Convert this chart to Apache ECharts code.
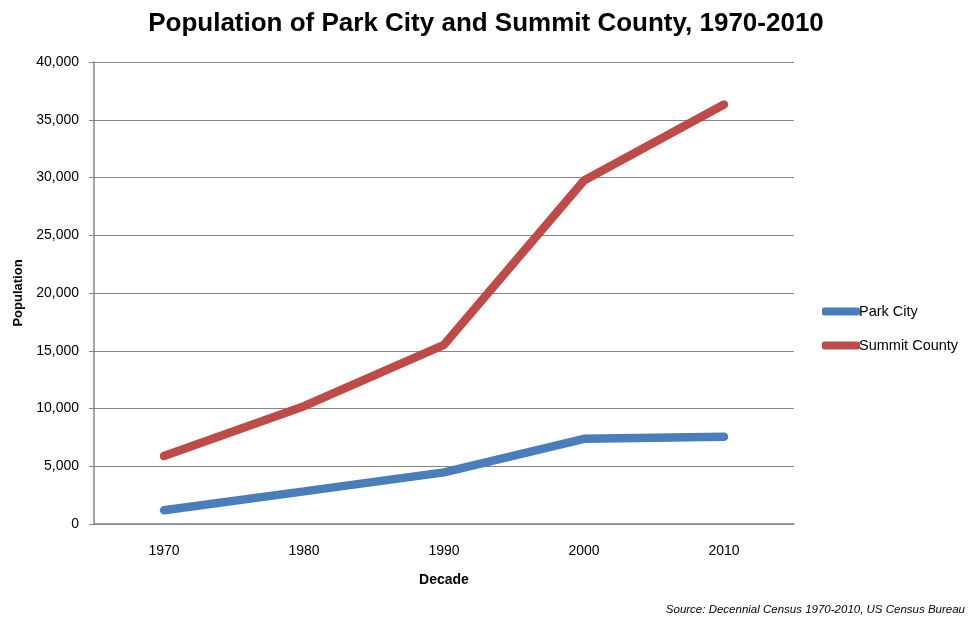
<!DOCTYPE html>
<html>
<head>
<meta charset="utf-8">
<script src="https://cdn.jsdelivr.net/npm/echarts@6/dist/echarts.min.js"></script>
<style>
  html, body { margin: 0; padding: 0; background: #fff; }
  #chart { width: 972px; height: 617px; }
</style>
</head>
<body>
<div id="chart"></div>
<script>
// Decennial census counts
const decades = ['1970', '1980', '1990', '2000', '2010'];
const parkCity = [1193, 2823, 4468, 7371, 7558];
const summitCounty = [5879, 10198, 15518, 29736, 36324];
const yTicks = { min: 0, max: 40000, interval: 5000 };

const FONT = '"Liberation Sans", Arial, sans-serif';
const chart = echarts.init(document.getElementById('chart'));

chart.setOption({
  backgroundColor: '#ffffff',
  textStyle: { fontFamily: FONT },
  title: [
    {
      text: 'Population of Park City and Summit County, 1970-2010',
      left: 'center',
      top: 6,
      textStyle: { fontFamily: FONT, fontSize: 26, fontWeight: 'bold', color: '#000' }
    },
    {
      text: 'Source: Decennial Census 1970-2010, US Census Bureau',
      right: 2,
      top: 599,
      textStyle: { fontFamily: FONT, fontSize: 11.5, fontStyle: 'italic', fontWeight: 'normal', color: '#000' }
    }
  ],
  legend: {
    orient: 'vertical',
    left: 817,
    top: 299,
    itemWidth: 38,
    itemHeight: 8,
    itemGap: 19,
    icon: 'roundRect',
    textStyle: { fontFamily: FONT, fontSize: 14.5, color: '#000', padding: [0, 0, 0, -6] },
    data: ['Park City', 'Summit County']
  },
  grid: { left: 94, right: 178, top: 62, bottom: 93 },
  xAxis: {
    type: 'category',
    data: decades,
    boundaryGap: true,
    name: 'Decade',
    nameLocation: 'middle',
    nameGap: 49,
    nameTextStyle: { fontFamily: FONT, fontSize: 14, fontWeight: 'bold', color: '#000' },
    axisLine: { lineStyle: { color: '#868686', width: 1.5 } },
    axisTick: { alignWithLabel: true, length: 6, lineStyle: { color: '#868686' } },
    axisLabel: { fontFamily: FONT, fontSize: 14, color: '#000', margin: 20 }
  },
  yAxis: {
    type: 'value',
    min: yTicks.min,
    max: yTicks.max,
    interval: yTicks.interval,
    name: 'Population',
    nameLocation: 'middle',
    nameGap: 69,
    nameRotate: 90,
    nameTextStyle: { fontFamily: FONT, fontSize: 13, fontWeight: 'bold', color: '#000' },
    axisLine: { show: true, lineStyle: { color: '#868686', width: 1.5 } },
    axisTick: { show: true, length: 5, lineStyle: { color: '#868686' } },
    splitLine: { lineStyle: { color: '#868686', width: 1.2 } },
    axisLabel: {
      fontFamily: FONT, fontSize: 14, color: '#000', margin: 15,
      formatter: v => v.toLocaleString('en-US')
    }
  },
  series: [
    {
      name: 'Park City',
      type: 'line',
      data: parkCity,
      symbol: 'none',
      color: '#4a7ebb',
      lineStyle: { width: 8.5, color: '#4a7ebb', cap: 'round' }
    },
    {
      name: 'Summit County',
      type: 'line',
      data: summitCounty,
      symbol: 'none',
      color: '#be4b48',
      lineStyle: { width: 8.5, color: '#be4b48', cap: 'round' }
    }
  ]
});
</script>
</body>
</html>
